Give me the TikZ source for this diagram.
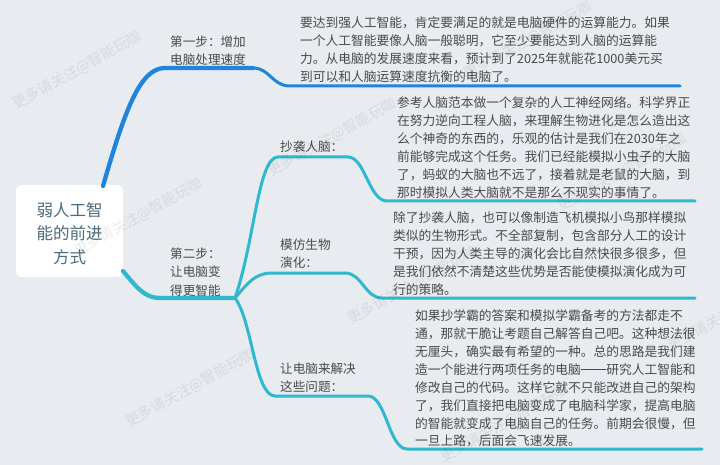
\documentclass[tikz,border=0pt]{standalone}
\usepackage{fontspec}
\setmainfont{Noto Sans CJK SC}
\definecolor{bg}{HTML}{E8EBEF}
\definecolor{blueb}{HTML}{1F84DC}
\definecolor{tealb}{HTML}{2EB9CF}
\definecolor{txt}{HTML}{4A4A4A}
\definecolor{roottxt}{HTML}{4C6B7E}
\newcommand{\cjkdashpair}{\rule[0.34em]{2em}{0.065em}}
\tikzset{
  body/.style={anchor=north west, inner sep=0pt, align=left, text=txt,
    font=\fontsize{12.75}{17.9}\selectfont},
  lbl/.style={anchor=north west, inner sep=0pt, align=left, text=txt,
    font=\fontsize{12.6}{18}\selectfont},
  wm/.style={inner sep=0pt, rotate=29, opacity=0.075, text=black,
    font=\fontsize{14.5}{16}\selectfont},
  mainb/.style={line width=4.3pt, line cap=round},
  subb/.style={line width=3pt, line cap=round},
}
\begin{document}
\begin{tikzpicture}[x=1pt,y=-1pt]
\useasboundingbox (0,0) rectangle (720,465);
\fill[bg] (0,0) rectangle (720,465);

% root
\node[fill=white, rounded corners=6pt, minimum width=107pt, minimum height=92pt, inner sep=0pt] (rootbox) at (69.5,231) {};
\node[align=center, inner sep=0pt, text=roottxt, font=\fontsize{16.5}{23.5}\selectfont] (root) at (69.5,233.5) {弱人工智\\能的前进\\方式};

% named points
\coordinate (b1s) at (103,186);
\coordinate (b1a) at (165,68);
\coordinate (b1b) at (253,68);
\coordinate (b1c) at (290,86);
\coordinate (b1e) at (680,86);
\coordinate (b2s) at (123,271);
\coordinate (b2a) at (160,298);
\coordinate (jn) at (235,298);
\coordinate (s1a) at (278,157);
\coordinate (s1b) at (348,157);
\coordinate (s1c) at (387,201);
\coordinate (s1e) at (695,201);
\coordinate (s2a) at (272,273);
\coordinate (s2b) at (345,273);
\coordinate (s2c) at (382,298);
\coordinate (s2e) at (695,298);
\coordinate (s3a) at (275,396);
\coordinate (s3b) at (368,396);
\coordinate (s3c) at (407,449);
\coordinate (s3e) at (702,449);

% branch 1
\draw[blueb, mainb] (b1s) .. controls (125,110) and (140,68) .. (b1a) -- (b1b);
\draw[blueb, subb] (b1b) .. controls (270,68) and (272,86) .. (b1c) -- (b1e);
% branch 2
\draw[tealb, mainb] (b2s) .. controls (137,288) and (145,298) .. (b2a) -- (jn);
\draw[tealb, subb] (jn) .. controls (255,240) and (258,157) .. (s1a) -- (s1b)
   .. controls (365,157) and (369,201) .. (s1c) -- (s1e);
\draw[tealb, subb] (jn) .. controls (248,283) and (255,273) .. (s2a) -- (s2b)
   .. controls (362,273) and (365,298) .. (s2c) -- (s2e);
\draw[tealb, subb] (jn) .. controls (252,320) and (255,396) .. (s3a) -- (s3b)
   .. controls (386,396) and (389,449) .. (s3c) -- (s3e);

% labels
\node[lbl] (l1) at (170,35.6) {第一步：增加\\电脑处理速度};
\node[lbl, font=\fontsize{12.6}{18.3}\selectfont] (l2) at (170,247.6) {第二步：\\让电脑变\\得更智能};
\node[lbl] (l3) at (280,140.6) {抄袭人脑：};
\node[lbl] (l4) at (280,238.6) {模仿生物\\演化：};
\node[lbl] (l5) at (280,362.6) {让电脑来解决\\这些问题：};

% texts
\node[body] (t1) at (300,16.6) {要达到强人工智能，肯定要满足的就是电脑硬件的运算能力。如果\\一个人工智能要像人脑一般聪明，它至少要能达到人脑的运算能\\力。从电脑的发展速度来看，预计到了2025年就能花1000美元买\\到可以和人脑运算速度抗衡的电脑了。};
\node[body] (t2) at (397,96.6) {参考人脑范本做一个复杂的人工神经网络。科学界正\\在努力逆向工程人脑，来理解生物进化是怎么造出这\\么个神奇的东西的，乐观的估计是我们在2030年之\\前能够完成这个任务。我们已经能模拟小虫子的大脑\\了，蚂蚁的大脑也不远了，接着就是老鼠的大脑，到\\那时模拟人类大脑就不是那么不现实的事情了。};
\node[body] (t3) at (393,211.6) {除了抄袭人脑，也可以像制造飞机模拟小鸟那样模拟\\类似的生物形式。不全部复制，包含部分人工的设计\\干预，因为人类主导的演化会比自然快很多很多，但\\是我们依然不清楚这些优势是否能使模拟演化成为可\\行的策略。};
\node[body] (t4) at (415,309.6) {如果抄学霸的答案和模拟学霸备考的方法都走不\\通，那就干脆让考题自己解答自己吧。这种想法很\\无厘头，确实最有希望的一种。总的思路是我们建\\造一个能进行两项任务的电脑\cjkdashpair 研究人工智能和\\修改自己的代码。这样它就不只能改进自己的架构\\了，我们直接把电脑变成了电脑科学家，提高电脑\\的智能就变成了电脑自己的任务。前期会很慢，但\\一旦上路，后面会飞速发展。};

% watermarks
\node[wm] (w1) at (77,70) {更多请关注@智能玩咖};
\node[wm] (w2) at (138,217) {更多请关注@智能玩咖};
\node[wm] (w3) at (332,137) {更多请关注@智能玩咖};
\node[wm] (w4) at (190,388) {更多请关注@智能玩咖};
\node[wm] (w5) at (412,285) {更多请关注@智能玩咖};
\node[wm] (w6) at (622,172) {更多请关注@智能玩咖};
\node[wm] (w7) at (505,423) {更多请关注@智能玩咖};
\node[wm] (w8) at (732,312) {更多请关注@智能玩咖};
\node[wm] (w9) at (528,40) {更多请关注@智能玩咖};
\end{tikzpicture}
\end{document}
